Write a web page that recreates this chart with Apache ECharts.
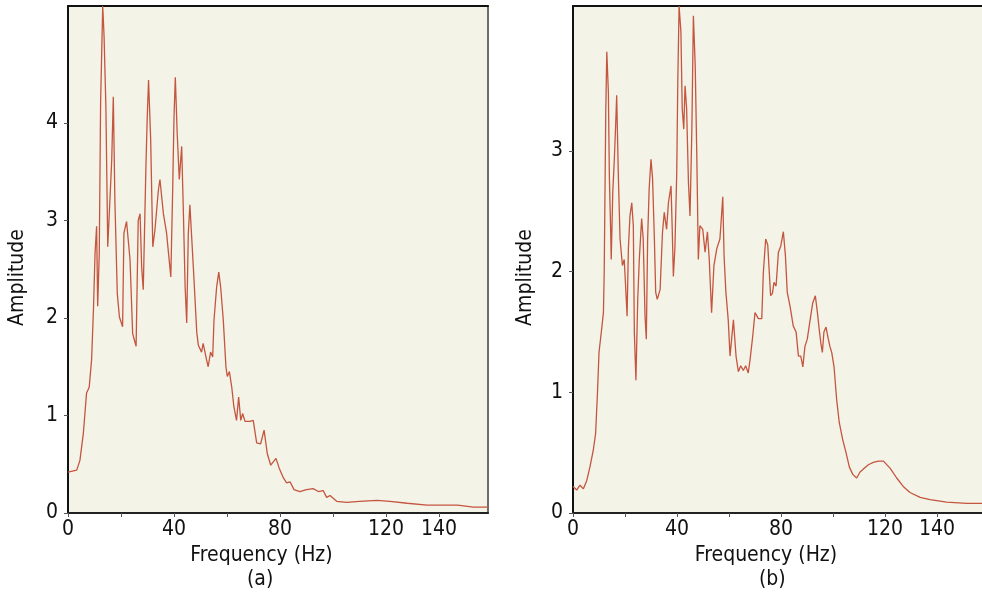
<!DOCTYPE html>
<html>
<head>
<meta charset="utf-8">
<script src="https://cdn.jsdelivr.net/npm/echarts@6/dist/echarts.min.js"></script>
<style>
  html, body { margin: 0; padding: 0; background: #fff; }
  #chart { width: 982px; height: 598px; }
</style>
</head>
<body>
<div id="chart"></div>
<script>
// panel (a)
const freqA = [0, 3.3, 4.5, 5.8, 7.0, 8.0, 8.9, 9.6, 10.2, 10.8, 11.2, 11.8, 12.3, 13.1, 13.6, 14.3, 15.0, 15.8, 16.5, 17.1,
    17.7, 18.6, 19.4, 20.6, 21.1, 22.1, 23.4, 24.4, 25.7, 26.5, 27.2, 27.8, 28.4, 29.4, 29.9, 30.4, 31.2, 32.0, 32.8, 34.1,
    34.7, 36.0, 37.2, 38.8, 39.5, 40.0, 40.5, 41.2, 42.0, 42.9, 43.5, 44.2, 44.8, 45.4, 46.0, 47.3, 48.6, 49.2, 50.4, 51.0,
    52.3, 52.9, 53.8, 54.6, 55.1, 56.1, 56.9, 57.6, 58.6, 59.6, 60.1, 60.9, 61.8, 62.6, 63.6, 64.4, 65.2, 65.9, 66.8, 68.7,
    69.9, 71.2, 72.7, 74.0, 75.2, 76.5, 78.5, 79.7, 81.3, 82.5, 83.8, 85.3, 87.5, 90.0, 92.5, 94.5, 96.3, 97.6, 98.9, 101.4,
    105.2, 110, 116.6, 121.5, 128, 135.5, 140.4, 147, 153, 158.5];
const ampA = [0.42, 0.44, 0.54, 0.82, 1.23, 1.29, 1.57, 2.08, 2.66, 2.94, 2.12, 2.66, 4.2, 5.2, 4.9, 4.17, 2.73, 3.2, 3.62, 4.27,
    3.2, 2.25, 2.01, 1.91, 2.87, 2.99, 2.6, 1.84, 1.71, 3.0, 3.07, 2.52, 2.29, 3.55, 4.06, 4.44, 3.83, 2.73, 2.9, 3.31,
    3.42, 3.07, 2.87, 2.42, 3.31, 4.06, 4.47, 3.9, 3.42, 3.76, 3.13, 2.32, 1.95, 2.87, 3.16, 2.52, 1.85, 1.72, 1.65, 1.74,
    1.57, 1.5, 1.65, 1.6, 1.98, 2.32, 2.47, 2.32, 1.98, 1.5, 1.4, 1.45, 1.29, 1.09, 0.95, 1.19, 0.95, 1.02, 0.94, 0.94,
    0.95, 0.72, 0.71, 0.85, 0.61, 0.49, 0.56, 0.46, 0.36, 0.31, 0.32, 0.24, 0.22, 0.24, 0.25, 0.22, 0.23, 0.16, 0.18, 0.12,
    0.11, 0.12, 0.13, 0.12, 0.1, 0.08, 0.08, 0.08, 0.06, 0.06];

// panel (b)
const freqB = [0, 1.4, 2.7, 4.0, 5.3, 6.5, 7.8, 8.7, 9.4, 10.0, 11.0, 11.7, 12.0, 12.6, 13.0, 13.6, 14.0, 14.5, 14.7, 15.3,
    15.9, 16.4, 16.8, 17.4, 18.1, 19.0, 19.7, 20.3, 20.8, 21.3, 21.9, 22.6, 23.2, 23.6, 24.2, 24.9, 25.5, 26.4, 27.0, 27.7,
    28.2, 28.7, 29.3, 30.0, 30.6, 31.3, 31.8, 32.4, 33.5, 34.4, 35.1, 36.0, 36.7, 37.7, 38.2, 38.6, 39.2, 39.9, 40.3, 40.8,
    41.5, 42.0, 42.6, 43.1, 43.7, 44.4, 45.0, 45.7, 46.3, 47.0, 47.6, 48.2, 48.8, 49.9, 50.8, 51.7, 52.4, 53.3, 54.2, 55.3,
    56.5, 57.2, 57.6, 58.1, 58.8, 59.7, 60.4, 61.0, 61.7, 62.7, 63.6, 64.5, 65.5, 66.4, 67.4, 68.1, 69.1, 70.0, 71.3, 72.6,
    73.2, 74.1, 74.9, 75.5, 76.0, 76.7, 77.3, 78.1, 79.0, 79.9, 80.9, 81.7, 82.4, 83.5, 84.7, 85.8, 86.7, 87.6, 88.4, 89.2,
    90.1, 91.2, 92.2, 93.2, 94.0, 94.7, 95.3, 95.9, 96.5, 97.3, 98.2, 98.8, 99.5, 100.4, 101.4, 102.4, 103.7, 105.0, 106.3, 107.6,
    109.1, 110.4, 112.0, 113.6, 115.5, 117.4, 119.4, 122.0, 124.5, 127.0, 129.6, 133.5, 137.3, 143.7, 151.4, 157.3];
const ampB = [0.22, 0.19, 0.23, 0.2, 0.27, 0.38, 0.52, 0.66, 0.99, 1.33, 1.52, 1.66, 1.99, 3.32, 3.82, 3.49, 2.77, 2.32, 2.1, 2.66,
    2.93, 3.21, 3.46, 2.83, 2.27, 2.05, 2.1, 1.85, 1.63, 2.19, 2.46, 2.57, 2.38, 1.49, 1.1, 1.77, 2.1, 2.44, 2.27, 1.63,
    1.44, 2.27, 2.69, 2.93, 2.77, 2.27, 1.83, 1.77, 1.85, 2.32, 2.49, 2.35, 2.57, 2.71, 2.32, 1.96, 2.2, 2.82, 3.57, 4.2,
    3.99, 3.35, 3.18, 3.54, 3.35, 2.74, 2.46, 3.16, 4.12, 3.71, 2.98, 2.1, 2.38, 2.35, 2.16, 2.33, 2.1, 1.66, 2.05, 2.19,
    2.27, 2.49, 2.62, 2.13, 1.83, 1.6, 1.3, 1.44, 1.6, 1.3, 1.17, 1.22, 1.18, 1.22, 1.16, 1.27, 1.46, 1.66, 1.61, 1.61,
    1.99, 2.27, 2.22, 1.99, 1.8, 1.82, 1.91, 1.88, 2.16, 2.21, 2.33, 2.13, 1.83, 1.71, 1.55, 1.5, 1.3, 1.3, 1.21, 1.38,
    1.44, 1.6, 1.74, 1.8, 1.66, 1.52, 1.41, 1.33, 1.5, 1.54, 1.44, 1.38, 1.33, 1.21, 0.94, 0.75, 0.61, 0.5, 0.38, 0.32,
    0.29, 0.34, 0.37, 0.4, 0.42, 0.43, 0.43, 0.37, 0.29, 0.22, 0.17, 0.13, 0.11, 0.09, 0.08, 0.08];

// ticks / labels
const xTicks = [0, 20, 40, 60, 80, 100, 120, 140];
const xLabels = [0, 40, 80, 120, 140];
const yLabelsA = [0, 1, 2, 3, 4];
const yLabelsB = [0, 1, 2, 3];

const FONT = "'Liberation Sans Narrow', 'Arial Narrow', 'DejaVu Sans Condensed', sans-serif";
const FONT_SIZE = 21;
const LINE_COLOR = '#c4553f';
const PLOT_BG = '#f4f3e8';

function zip(xs, ys) {
    return xs.map((x, i) => [x, ys[i]]);
}

function bottomAxis(gridIndex, max, shift) {
    return {
        type: 'value', gridIndex, min: 0, max,
        name: 'Frequency (Hz)', nameLocation: 'middle', nameGap: 24,
        nameTextStyle: { fontFamily: FONT, fontSize: FONT_SIZE, color: '#111', padding: [0, shift, 0, 0] },
        splitLine: { show: false },
        axisLine: { show: true, onZero: false, lineStyle: { color: '#222', width: 2 } },
        axisTick: { show: true, length: 4, customValues: xTicks, lineStyle: { color: '#555' } },
        axisLabel: { customValues: xLabels, margin: 6, fontFamily: FONT, fontSize: FONT_SIZE, color: '#111' }
    };
}

function topAxis(gridIndex, max) {
    return {
        type: 'value', gridIndex, min: 0, max, position: 'top',
        splitLine: { show: false }, axisTick: { show: false }, axisLabel: { show: false },
        axisLine: { show: true, onZero: false, lineStyle: { color: '#111', width: 2 } }
    };
}

function leftAxis(gridIndex, max, labels, gap) {
    return {
        type: 'value', gridIndex, min: 0, max,
        name: 'Amplitude', nameLocation: 'middle', nameGap: gap,
        nameTextStyle: { fontFamily: FONT, fontSize: FONT_SIZE, color: '#111', padding: [0, 36, 0, 0] },
        splitLine: { show: false },
        axisLine: { show: true, onZero: false, lineStyle: { color: '#111', width: 2 } },
        axisTick: { show: true, length: 4, customValues: labels, lineStyle: { color: '#555' } },
        axisLabel: { customValues: labels, margin: 10, fontFamily: FONT, fontSize: FONT_SIZE, color: '#111' }
    };
}

const chart = echarts.init(document.getElementById('chart'));

const option = {
    animation: false,
    backgroundColor: '#fff',
    title: [
        { text: '(a)', left: 247, top: 569, padding: 0, textStyle: { fontFamily: FONT, fontSize: FONT_SIZE, fontWeight: 'normal', color: '#111' } },
        { text: '(b)', left: 759, top: 569, padding: 0, textStyle: { fontFamily: FONT, fontSize: FONT_SIZE, fontWeight: 'normal', color: '#111' } }
    ],
    grid: [
        { left: 68, top: 6, width: 420, height: 507, show: true, backgroundColor: PLOT_BG, borderWidth: 0 },
        { left: 573, top: 6, width: 409, height: 507, show: true, backgroundColor: PLOT_BG, borderWidth: 0 }
    ],
    xAxis: [
        bottomAxis(0, 158.5, 33),
        bottomAxis(1, 157.3, 23),
        topAxis(0, 158.5),
        topAxis(1, 157.3)
    ],
    yAxis: [
        leftAxis(0, 5.2, yLabelsA, 40),
        leftAxis(1, 4.2, yLabelsB, 37),
        {
            type: 'value', gridIndex: 0, min: 0, max: 5.2, position: 'right',
            splitLine: { show: false }, axisTick: { show: false }, axisLabel: { show: false },
            axisLine: { show: true, onZero: false, lineStyle: { color: '#6e6e66', width: 2 } }
        }
    ],
    series: [
        {
            type: 'line', xAxisIndex: 0, yAxisIndex: 0,
            data: zip(freqA, ampA),
            showSymbol: false,
            lineStyle: { color: LINE_COLOR, width: 1.3 }
        },
        {
            type: 'line', xAxisIndex: 1, yAxisIndex: 1,
            data: zip(freqB, ampB),
            showSymbol: false,
            lineStyle: { color: LINE_COLOR, width: 1.3 }
        }
    ]
};

chart.setOption(option);
</script>
</body>
</html>
